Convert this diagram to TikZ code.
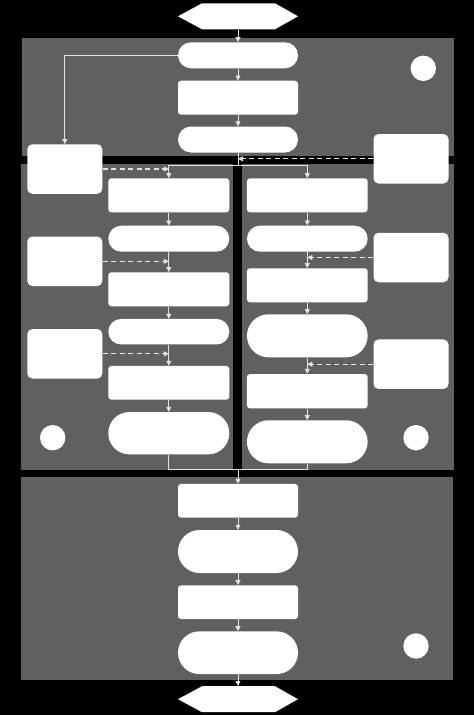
\documentclass[tikz,border=0pt]{standalone}
\usetikzlibrary{arrows.meta,calc}
\definecolor{panelgray}{HTML}{606060}
\definecolor{linegray}{HTML}{E4E4E4}
\tikzset{
  box/.style={draw=none,fill=white,rounded corners=3pt,inner sep=0pt,minimum width=#1},
  box/.default=120pt,
  stad/.style={draw=none,fill=white,inner sep=0pt,minimum width=120pt},
  sidebox/.style={draw=none,fill=white,rounded corners=5pt,inner sep=0pt,minimum width=75pt,minimum height=49.5pt},
  dot/.style={circle,draw=none,fill=white,inner sep=0pt,minimum size=25.4pt},
  hexnode/.style={draw=none,inner sep=0pt,minimum width=120pt,minimum height=26pt,
    path picture={\fill[white] (path picture bounding box.west)
      -- ([xshift=24pt]path picture bounding box.north west)
      -- ([xshift=-23pt]path picture bounding box.north east)
      -- (path picture bounding box.east)
      -- ([xshift=-23pt]path picture bounding box.south east)
      -- ([xshift=24pt]path picture bounding box.south west) -- cycle;}},
  flow/.style={draw=linegray,line width=0.8pt,-{Triangle[length=5pt,width=5pt]}},
  plain/.style={draw=linegray,line width=0.8pt},
  dashflow/.style={draw=linegray,line width=1.1pt,dash pattern=on 5pt off 3.5pt,-{Triangle[length=5pt,width=5pt]}},
  panel/.style={fill=panelgray,draw=none}
}
\begin{document}
\begin{tikzpicture}[x=1pt,y=-1pt]
\fill[black] (0,0) rectangle (474,715);
\useasboundingbox (0,0) rectangle (474,715);
% panels
\fill[panel] (22,38.3) rectangle (454,155.7);
\fill[panel] (21,164) rectangle (233,470);
\fill[panel] (242,164) rectangle (454,470);
\fill[panel] (21,477.3) rectangle (453.3,680);
% top section
\node[hexnode] (start) at (238,16.3) {};
\node[stad,minimum height=26pt,rounded corners=13pt] (n1) at (238,55.3) {};
\node[box,minimum height=34pt] (n2) at (238,97.7) {};
\node[stad,minimum height=26pt,rounded corners=13pt] (n3) at (238,139.5) {};
\node[dot] (c1) at (423.3,68.3) {};
\node[sidebox] (l1) at (64.8,169) {};
\node[sidebox] (r1) at (411,158.8) {};
% left column
\node[box=121pt,minimum height=34pt] (la) at (168.8,195.3) {};
\node[stad,minimum width=121pt,minimum height=26pt,rounded corners=13pt] (lb) at (168.8,238.7) {};
\node[box=121pt,minimum height=34pt] (lc) at (168.8,289.3) {};
\node[stad,minimum width=121pt,minimum height=25.5pt,rounded corners=12.7pt] (ld) at (168.8,331.7) {};
\node[box=121pt,minimum height=33.7pt] (le) at (168.8,382.8) {};
\node[stad,minimum width=121pt,minimum height=42.3pt,rounded corners=21pt] (lf) at (168.8,433.2) {};
\node[sidebox] (l2) at (64.8,261.3) {};
\node[sidebox] (l3) at (64.8,353.8) {};
\node[dot] (c2) at (52.7,437.7) {};
% right column
\node[box=120.7pt,minimum height=34pt] (ra) at (307.3,195.3) {};
\node[stad,minimum width=120.7pt,minimum height=26pt,rounded corners=13pt] (rb) at (307.3,238.7) {};
\node[box=120.7pt,minimum height=34pt] (rc) at (307.3,285.3) {};
\node[stad,minimum width=120.7pt,minimum height=43pt,rounded corners=21.5pt] (rd) at (307.3,335.8) {};
\node[box=120.7pt,minimum height=34.3pt] (re) at (307.3,391.2) {};
\node[stad,minimum width=120.7pt,minimum height=43pt,rounded corners=21.5pt] (rf) at (307.3,441.8) {};
\node[sidebox] (r2) at (411,257.5) {};
\node[sidebox] (r3) at (411,364.2) {};
\node[dot] (c3) at (416,437.7) {};
% bottom section
\node[box,minimum height=33.7pt] (b1) at (238,500.8) {};
\node[stad,minimum height=43pt,rounded corners=21.5pt] (b2) at (238,551.5) {};
\node[box,minimum height=33.7pt] (b3) at (238,602.2) {};
\node[stad,minimum height=42.7pt,rounded corners=21.3pt] (b4) at (238,652.7) {};
\node[hexnode] (stop) at (238,699.2) {};
\node[dot] (c4) at (416,646) {};
% coordinates
\coordinate (split) at (238,165);
\coordinate (merge) at (238,469);
% connectors: top
\draw[flow] (start) -- (n1);
\draw[flow] (n1) -- (n2);
\draw[flow] (n2) -- (n3);
\draw[flow] (n1.west) -| (l1.north);
\draw[plain] (n3.south) -- (split);
\draw[flow] (split) -| (la.north);
\draw[flow] (split) -| (ra.north);
\draw[dashflow] (r1.west) -- (n3.south |- r1.west);
\draw[dashflow] (l1.east) -- (la.north |- l1.east);
% left column
\draw[flow] (la) -- (lb);
\draw[flow] (lb) -- (lc);
\draw[flow] (lc) -- (ld);
\draw[flow] (ld) -- (le);
\draw[flow] (le) -- (lf);
\draw[dashflow] (l2.east) -- (lb.south |- l2.east);
\draw[dashflow] (l3.east) -- (ld.south |- l3.east);
% right column
\draw[flow] (ra) -- (rb);
\draw[flow] (rb) -- (rc);
\draw[flow] (rc) -- (rd);
\draw[flow] (rd) -- (re);
\draw[flow] (re) -- (rf);
\draw[dashflow] (r2.west) -- (rb.south |- r2.west);
\draw[dashflow] (r3.west) -- (rd.south |- r3.west);
% merge
\draw[plain] (lf.south) |- (merge);
\draw[plain] (rf.south) |- (merge);
\draw[flow] (merge) -- (b1.north);
\draw[flow] (b1) -- (b2);
\draw[flow] (b2) -- (b3);
\draw[flow] (b3) -- (b4);
\draw[flow] (b4) -- (stop);
\end{tikzpicture}
\end{document}
